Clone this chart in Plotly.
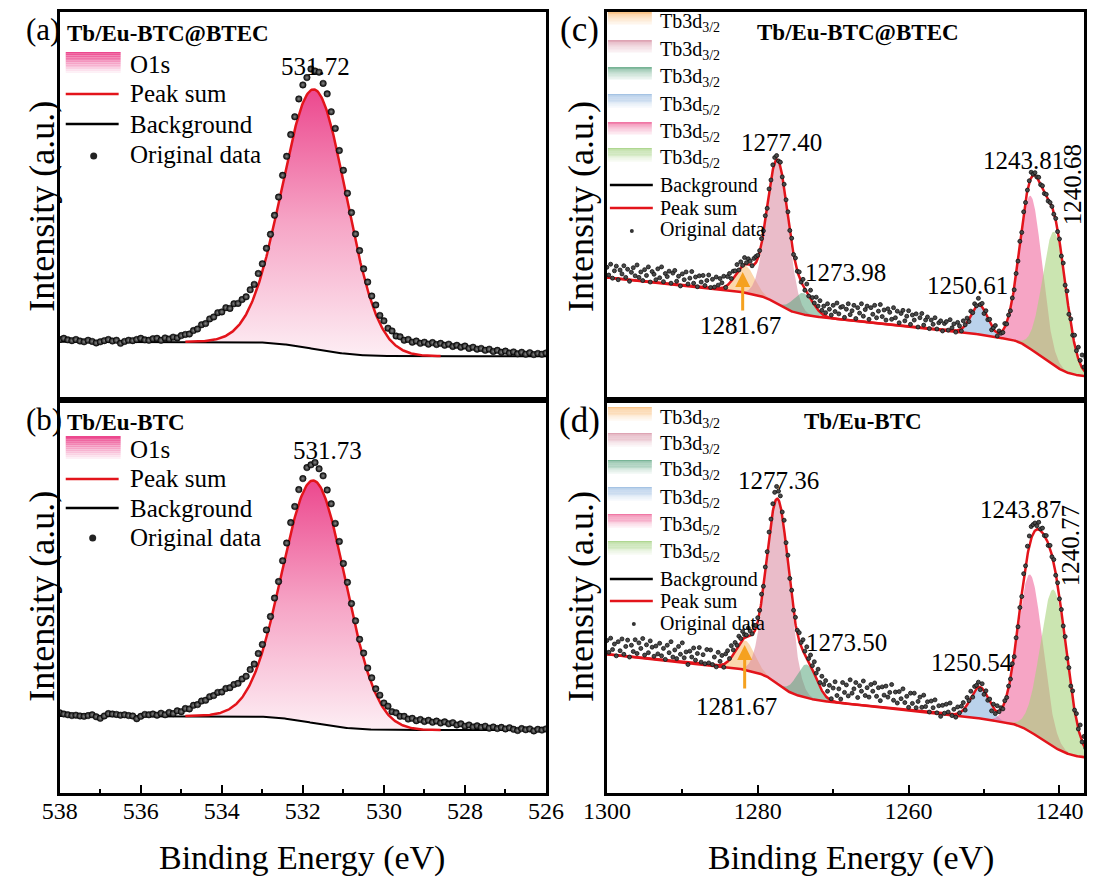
import math
import numpy as np
import plotly.graph_objects as go

W, H = 1102, 881
SERIF = "Liberation Serif"

# ---------------- chart values ----------------
PANEL_TAGS = ["(a)", "(b)", "(c)", "(d)"]
SAMPLES = ["Tb/Eu-BTC@BTEC", "Tb/Eu-BTC"]

# O1s spectra (panels a, b): binding energy scan 538 -> 526 eV, step 0.1 eV
O1S_SCAN = [538.0, 526.0, 0.1]
O1S_CENTER = [531.72, 531.73]
O1S_HEIGHT = [66.9, 61.7]
O1S_FWHM = [1.87, 1.84]
O1S_BG_LOW = [11.3, 16.0]
O1S_BG_STEP = [3.7, 3.6]
O1S_FIT_WINDOW = [534.9, 528.6]
O1S_PEAK_TEXT = ["531.72", "531.73"]

O1S_DATA_A = [
    15.6, 15.9, 15.5, 15.3, 15.6, 15.2, 15.0, 15.4, 15.1, 14.7,
    15.0, 15.3, 15.6, 15.2, 15.4, 14.6, 15.1, 15.4, 15.3, 15.6,
    15.9, 15.5, 15.4, 15.8, 15.9, 15.4, 16.0, 15.7, 16.2, 16.0,
    16.6, 16.9, 17.0, 17.9, 18.3, 19.4, 19.7, 20.9, 21.4, 22.5,
    22.7, 23.8, 23.6, 24.8, 24.9, 25.9, 26.6, 28.4, 29.8, 32.6,
    35.1, 39.1, 42.7, 47.6, 52.3, 57.9, 62.8, 68.4, 73.0, 77.6,
    81.2, 83.1, 85.3, 84.8, 84.5, 81.6, 78.9, 74.3, 70.0, 64.3,
    59.2, 53.3, 48.3, 42.8, 38.5, 33.8, 30.4, 26.8, 24.5, 21.8,
    20.4, 18.5, 17.8, 16.5, 16.3, 15.4, 15.6, 14.9, 15.2, 14.6,
    14.9, 14.4, 14.8, 14.3, 14.6, 14.1, 14.4, 13.8, 14.1, 13.6,
    13.9, 13.3, 13.6, 13.1, 13.3, 12.8, 13.1, 12.5, 12.8, 12.3,
    12.6, 12.1, 12.4, 11.9, 12.3, 11.8, 12.2, 11.7, 12.0, 11.8,
    12.1]

O1S_DATA_B = [
    20.4, 20.1, 19.9, 19.7, 19.8, 19.6, 19.5, 19.7, 19.9, 19.4,
    19.0, 19.6, 20.2, 20.1, 20.0, 19.8, 19.9, 19.7, 19.6, 18.9,
    19.5, 20.0, 19.9, 20.1, 19.8, 20.3, 19.9, 20.5, 20.2, 20.9,
    20.7, 21.5, 21.4, 22.3, 22.5, 23.4, 23.6, 24.5, 24.8, 25.6,
    25.7, 26.6, 26.8, 27.6, 27.9, 29.0, 29.7, 31.4, 32.8, 35.5,
    37.8, 41.5, 44.9, 49.6, 53.8, 59.1, 63.6, 68.8, 72.9, 77.2,
    80.0, 82.8, 83.5, 84.1, 82.5, 80.7, 77.1, 73.6, 68.6, 64.0,
    58.4, 53.6, 48.2, 43.8, 39.1, 35.6, 31.8, 29.3, 26.5, 24.9,
    22.9, 22.1, 20.7, 20.4, 19.5, 19.5, 18.8, 19.0, 18.4, 18.7,
    18.2, 18.5, 18.0, 18.3, 17.8, 18.1, 17.6, 17.9, 17.3, 17.6,
    17.0, 17.3, 16.8, 17.1, 16.7, 17.0, 16.5, 16.8, 16.4, 16.7,
    16.3, 16.6, 16.2, 15.9, 16.4, 16.1, 16.3, 15.8, 16.2, 16.0,
    16.3]

# Tb 3d spectra (panels c, d): binding energy scan 1300 -> 1234.5 eV, step 0.25 eV
TB_SCAN = [1300.0, 1234.5, 0.25]
TB_LABELS = ["Tb3d<sub>3/2</sub>"] * 3 + ["Tb3d<sub>5/2</sub>"] * 3
TB_CENTER_C = [1281.67, 1277.40, 1273.98, 1250.61, 1243.81, 1240.68]
TB_HEIGHT_C = [7.0, 37.0, 5.5, 7.7, 39.5, 34.5]
TB_SIGMA_C = [1.25, 1.4, 1.3, 1.1, 1.5, 1.55]
TB_CENTER_D = [1281.67, 1277.36, 1273.50, 1250.54, 1243.87, 1240.77]
TB_HEIGHT_D = [7.5, 47.0, 8.5, 8.0, 40.0, 40.0]
TB_SIGMA_D = [1.25, 1.5, 1.3, 1.2, 1.65, 1.75]
TB_BG_C = [5.7, 0.2, 8.2, 4.6]   # low-BE level, slope, 3d5/2 step, 3d3/2 step
TB_BG_D = [8.6, 0.2, 7.4, 6.2]

TB_DATA_C = [
    34.2, 32.2, 35.0, 31.4, 33.3, 34.5, 31.0, 33.5, 32.5, 34.6,
    31.6, 33.7, 30.6, 32.9, 34.1, 32.0, 34.8, 31.6, 33.0, 30.8,
    33.6, 32.1, 34.3, 30.4, 33.1, 32.4, 31.0, 33.8, 31.5, 34.3,
    30.5, 32.6, 31.8, 33.2, 30.1, 32.7, 33.4, 30.6, 31.9, 29.4,
    32.5, 31.0, 33.0, 29.9, 31.4, 33.1, 30.1, 31.7, 29.2, 32.0,
    30.4, 32.1, 29.5, 30.8, 32.2, 29.0,
    31.1, 29.1, 31.7, 29.6, 31.3, 30.2, 31.9, 29.0, 31.8, 32.6,
    31.3, 33.2, 33.3, 34.9, 33.5, 35.6, 34.7, 36.7, 35.4, 36.4,
    35.8, 34.6, 36.5, 37.0, 37.3, 38.5, 41.6, 43.6, 47.5, 49.4,
    54.4, 56.7, 60.6, 62.5, 63.0, 61.6, 61.3, 57.5, 55.6, 51.6,
    48.5, 43.7, 41.7, 37.5, 36.6, 33.2, 33.0, 30.4, 31.1, 28.3,
    29.9, 26.8, 28.3, 26.4, 25.0, 26.5, 24.2, 25.6, 23.1, 24.2,
    22.5, 24.8, 23.4, 21.9, 24.4, 22.8, 25.0, 22.2, 23.9,
    24.1, 21.3, 23.4, 24.8, 22.0, 23.0, 24.4, 21.0, 23.8, 22.4,
    24.8, 21.6, 23.3, 24.2, 20.8, 23.8, 22.1, 24.4, 21.2, 22.9,
    24.6, 21.5, 23.2, 20.6, 23.5, 22.6, 20.8, 23.8, 21.2, 22.9,
    19.9, 22.3, 23.1, 20.4, 21.6, 23.0, 19.5, 21.9, 20.6, 22.2,
    18.8, 21.2, 22.3, 19.3, 20.6, 21.4, 18.4, 20.6, 19.5, 21.2,
    18.3, 19.9, 20.4, 17.8, 19.7,
    20.2, 18.0, 20.7, 18.6, 19.6, 17.5, 20.0, 19.1, 17.8, 20.4,
    19.4, 21.1, 20.2, 22.9, 22.5, 24.8, 24.3, 26.2, 24.6, 24.9,
    22.3, 23.0, 20.7, 20.8, 18.1, 18.6, 19.2, 16.5, 17.8, 17.2,
    17.4, 19.7, 19.6, 21.9, 23.0, 26.3, 28.4, 32.6, 35.8, 40.9,
    43.2, 48.5, 50.9, 54.1, 56.5, 58.7, 58.2, 58.6, 57.5, 57.4,
    55.5, 55.2, 53.2, 53.0, 51.3, 50.9, 49.9, 47.9, 46.8, 43.4,
    41.5, 37.1, 35.3, 29.6, 28.1, 22.1, 20.9, 16.7, 16.7, 12.7,
    13.6, 10.2, 11.6, 8.5, 10.9, 7.8, 9.5, 8.3, 6.9, 10.0,
    6.4, 8.8, 7.4]

TB_DATA_D = [
    38.8, 35.8, 39.4, 36.5, 37.9, 34.9, 38.5, 36.2, 39.2, 35.3,
    37.3, 38.9, 34.6, 37.6, 36.0, 39.0, 35.5, 38.2, 36.8, 39.3,
    35.1, 37.7, 35.7, 38.7, 37.1, 34.8, 37.4, 35.4, 38.1, 34.9,
    36.8, 34.0, 37.6, 35.7, 38.5, 34.6, 36.4, 34.2, 37.3, 35.3,
    38.2, 34.4, 35.9, 32.7, 36.1, 34.6, 36.9, 33.8, 35.5, 37.0,
    33.3, 35.2, 32.9, 36.5, 33.1, 36.4, 32.7, 34.6, 32.1, 35.8,
    33.5, 35.0, 32.0, 35.4,
    36.2, 34.2, 37.5, 36.4, 38.3, 37.6, 39.9, 39.3, 41.1, 40.3,
    40.2, 42.0, 41.2, 40.5, 42.7, 42.6, 44.6, 46.5, 50.6, 52.6,
    57.5, 61.4, 66.4, 69.7, 73.6, 76.5, 78.0, 76.8, 75.6, 71.5,
    69.4, 63.7, 60.5, 54.6, 51.6, 46.5, 44.7, 41.4, 40.8, 38.3,
    39.0, 36.1, 37.2, 34.2, 35.1, 32.4, 33.4, 30.5, 31.5, 28.1,
    29.7, 27.6, 28.6, 25.9,
    27.4, 24.0, 26.7, 28.3, 24.8, 26.5, 23.9, 28.1, 25.6, 27.5,
    24.7, 28.8, 25.4, 26.5, 28.1, 24.3, 27.3, 25.9, 28.5, 24.8,
    26.8, 24.4, 27.6, 25.9, 28.0, 24.6, 26.8, 23.5, 27.0, 24.9,
    27.2, 24.4, 25.6, 27.6, 23.6, 25.7, 22.9, 25.8, 24.0, 26.5,
    23.0, 24.6, 21.8, 25.4, 22.8, 25.4, 21.7, 23.3, 24.4, 21.8,
    24.9, 22.0, 23.2, 20.6, 23.4, 21.7, 23.7, 20.4, 22.2, 19.5,
    22.3, 20.3, 22.6, 20.6, 22.9, 19.7, 21.3, 19.3, 21.9, 20.4,
    22.1,
    23.0, 21.1, 24.3, 23.5, 25.9, 24.4, 27.1, 27.4, 28.2, 26.3,
    27.8, 25.1, 26.0, 23.6, 23.9, 20.9, 22.6, 20.2, 22.2, 20.7,
    21.7, 21.4, 23.5, 24.3, 27.2, 29.0, 32.9, 34.7, 39.5, 42.3,
    47.2, 50.0, 55.8, 57.8, 62.8, 65.4, 67.8, 68.3, 68.7, 68.0,
    68.9, 67.2, 67.4, 65.5, 65.5, 63.0, 63.0, 60.1, 59.4, 55.4,
    53.5, 49.4, 46.7, 42.5, 39.8, 34.3, 31.9, 27.2, 26.0, 21.1,
    20.2, 16.3, 17.3, 13.0, 14.4, 11.4, 12.5, 9.8, 11.0, 8.2,
    10.4, 6.8, 9.8, 6.5]

TB_FILL = ["rgba(248,188,118,0.60)", "rgba(218,140,162,0.58)", "rgba(90,165,125,0.55)",
           "rgba(140,180,222,0.60)", "rgba(240,100,155,0.58)", "rgba(165,210,120,0.58)"]
TB_SWATCH = [(250, 196, 136), (222, 164, 180), (120, 180, 150),
             (165, 195, 228), (240, 120, 165), (175, 215, 145)]

# ---------------- placement helpers ----------------
# the photographed page appears horizontally as x' = SX * x + OX; targets below are in picture pixels
SX, OX = 0.9634, 23.2
RIGHT_L = 607
RIGHT_R = SX * W + OX                  # furthest right edge reachable in the picture
TB_PX_PER_EV = 7.555                   # reference scale of the Tb panels
TB_RANGE = [1300.0, 1300.0 - (RIGHT_R - RIGHT_L) / TB_PX_PER_EV]


def px(x):
    return min(1.0, max(0.0, (x - OX) / SX / W))


def py(y):
    return 1 - y / H


def scan(spec):
    start, stop, step = spec
    n = int(round(abs(start - stop) / step)) + 1
    return np.round(start - np.sign(start - stop) * step * np.arange(n), 4)


def Phi(z):
    z = np.asarray(z, dtype=float)
    return 0.5 * (1 + np.array([math.erf(v / math.sqrt(2)) for v in z.ravel()]).reshape(z.shape))


def gauss(E, c, h, s):
    return h * np.exp(-0.5 * ((E - c) / s) ** 2)


def o1s_model(E, i):
    s = O1S_FWHM[i] / 2.3548
    bg = O1S_BG_LOW[i] + O1S_BG_STEP[i] * Phi((E - O1S_CENTER[i]) / s)
    pk = gauss(E, O1S_CENTER[i], O1S_HEIGHT[i], s)
    return bg, pk


def tb_model(E, C, Hh, S, BG):
    low, slope, s52, s32 = BG
    comps = [gauss(E, c, h, s) for c, h, s in zip(C, Hh, S)]
    areas = [h * s for h, s in zip(Hh, S)]

    def cum(sel):
        tot = sum(a for c, a in zip(C, areas) if sel(c))
        return sum(a * Phi((E - c) / s) for c, a, s in zip(C, areas, S) if sel(c)) / tot
    bg = low + slope * (E - TB_SCAN[1]) + s52 * cum(lambda c: c < 1260) + s32 * cum(lambda c: c > 1260)
    return bg, comps


E_O = scan(O1S_SCAN)
E_T = scan(TB_SCAN)

# ---------------- figure ----------------
AX = {"a": (59, 546, 12, 400), "b": (59, 546, 400, 793),
      "c": (RIGHT_L, RIGHT_R, 12, 400), "d": (RIGHT_L, RIGHT_R, 400, 793)}
KEYS = "abcd"

fig = go.Figure()
layout = dict(width=W, height=H, margin=dict(l=0, r=0, t=0, b=0, pad=0), autosize=False,
              paper_bgcolor="white", plot_bgcolor="white", showlegend=False)

for n, key in enumerate(KEYS, start=1):
    x0, x1, yt, yb = AX[key]
    sfx = "" if n == 1 else str(n)
    left = key in "ab"
    bottom = key in "bd"
    xa = dict(domain=[px(x0), px(x1)], range=[538, 526] if left else TB_RANGE,
              showline=True, mirror=True, linewidth=2.5, linecolor="black",
              showgrid=False, zeroline=False, anchor="y" + sfx)
    if bottom:
        xa.update(ticks="inside", ticklen=8, tickwidth=2, tickcolor="black",
                  dtick=2 if left else 20, tick0=526 if left else 1240,
                  minor=dict(ticks="inside", ticklen=4, tickwidth=2, tickcolor="black",
                             dtick=1 if left else 10, tick0=526 if left else 1240),
                  tickfont=dict(family=SERIF, size=24, color="black"), ticklabelstandoff=-6)
    else:
        xa.update(ticks="", showticklabels=False)
    ya = dict(domain=[py(yb), py(yt)], range=[0, 100], showline=True, mirror=True,
              linewidth=2.5, linecolor="black", showgrid=False, zeroline=False,
              ticks="", showticklabels=False, anchor="x" + sfx)
    layout["xaxis" + sfx] = xa
    layout["yaxis" + sfx] = ya

# O1s panels
Ef_O = scan([538.0, 526.0, 0.02])
for i, data in enumerate([O1S_DATA_A, O1S_DATA_B]):
    n = i + 1
    sfx = "" if n == 1 else str(n)
    xr, yr = "x" + sfx, "y" + sfx
    bg, pk = o1s_model(Ef_O, i)
    win = (Ef_O <= O1S_FIT_WINDOW[0]) & (Ef_O >= O1S_FIT_WINDOW[1])
    fig.add_trace(go.Scatter(x=Ef_O[win], y=bg[win], mode="lines", line=dict(width=0),
                             xaxis=xr, yaxis=yr, hoverinfo="skip"))
    fig.add_trace(go.Scatter(x=Ef_O[win], y=(bg + pk)[win], mode="lines", line=dict(width=0),
                             fill="tonexty",
                             fillgradient=dict(type="vertical", start=float(bg.min()),
                                               stop=float((bg + pk).max()),
                                               colorscale=[[0, "rgb(253,238,244)"], [0.5, "rgb(246,165,198)"],
                                                           [1, "rgb(236,72,142)"]]),
                             xaxis=xr, yaxis=yr, hoverinfo="skip"))
    fig.add_trace(go.Scatter(x=Ef_O, y=bg, mode="lines", line=dict(color="black", width=2),
                             xaxis=xr, yaxis=yr))
    fig.add_trace(go.Scatter(x=Ef_O[win], y=(bg + pk)[win], mode="lines",
                             line=dict(color="#e3141b", width=2.5), xaxis=xr, yaxis=yr))
    fig.add_trace(go.Scatter(x=E_O, y=data, mode="markers",
                             marker=dict(size=6.5, color="#0a0a0a",
                                         gradient=dict(type="radial", color="#8a8a8a"),
                                         line=dict(width=0.5, color="black")),
                             xaxis=xr, yaxis=yr))

# Tb panels
Ef_T = scan([1300.0, 1234.5, 0.05])
for n, C, Hh, S, BG, data in [(3, TB_CENTER_C, TB_HEIGHT_C, TB_SIGMA_C, TB_BG_C, TB_DATA_C),
                              (4, TB_CENTER_D, TB_HEIGHT_D, TB_SIGMA_D, TB_BG_D, TB_DATA_D)]:
    xr, yr = "x" + str(n), "y" + str(n)
    bg, comps = tb_model(Ef_T, C, Hh, S, BG)
    for comp, col in zip(comps, TB_FILL):
        m = comp > 0.02
        fig.add_trace(go.Scatter(x=Ef_T[m], y=bg[m], mode="lines", line=dict(width=0),
                                 xaxis=xr, yaxis=yr, hoverinfo="skip"))
        fig.add_trace(go.Scatter(x=Ef_T[m], y=(bg + comp)[m], mode="lines", line=dict(width=0),
                                 fill="tonexty", fillcolor=col, xaxis=xr, yaxis=yr, hoverinfo="skip"))
    fig.add_trace(go.Scatter(x=Ef_T, y=bg, mode="lines", line=dict(color="#e3141b", width=2.5),
                             xaxis=xr, yaxis=yr))
    fig.add_trace(go.Scatter(x=Ef_T, y=bg + sum(comps), mode="lines",
                             line=dict(color="#e3141b", width=2.5), xaxis=xr, yaxis=yr))
    fig.add_trace(go.Scatter(x=E_T, y=data, mode="markers",
                             marker=dict(size=4, color="#4a4a4a", line=dict(width=0.8, color="#111111")),
                             xaxis=xr, yaxis=yr))

# ---------------- text and legends ----------------
ann = []
shapes = []


def text(x, y, s, size, xanchor="left", angle=0, bold=False):
    ann.append(dict(x=px(x), y=py(y), xref="paper", yref="paper", text=f"<b>{s}</b>" if bold else s,
                    showarrow=False, xanchor=xanchor, yanchor="middle", textangle=angle,
                    font=dict(family=SERIF, size=size, color="black")))


def swatch(x0, x1, y0, y1, rgb, n=12):
    for k in range(n):
        t = k / (n - 1)
        c = tuple(int(round(v + (255 - v) * t * 0.92)) for v in rgb)
        shapes.append(dict(type="rect", xref="paper", yref="paper", x0=px(x0), x1=px(x1),
                           y0=py(y0 + (y1 - y0) * (k + 1) / n), y1=py(y0 + (y1 - y0) * k / n),
                           fillcolor=f"rgb{c}", line=dict(width=0), layer="above"))


def hline(x0, x1, y, color, w):
    shapes.append(dict(type="line", xref="paper", yref="paper", x0=px(x0), x1=px(x1), y0=py(y), y1=py(y),
                       line=dict(color=color, width=w), layer="above"))


def dot(x, y, r, color):
    shapes.append(dict(type="circle", xref="paper", yref="paper", x0=px(x - r), x1=px(x + r),
                       y0=py(y + r), y1=py(y - r), fillcolor=color, line=dict(width=0), layer="above"))


# panel tags and axis titles
text(OX + 0.5, 29, PANEL_TAGS[0], 31)
text(OX + 0.5, 419, PANEL_TAGS[1], 31)
text(580, 30, PANEL_TAGS[2], 35, xanchor="center")
text(580, 420, PANEL_TAGS[3], 35, xanchor="center")
for (x, y) in [(41, 206), (41, 596), (581, 206), (581, 596)]:
    text(x, y, "Intensity (a.u.)", 36, xanchor="center", angle=-90)
text(302, 858, "Binding Energy (eV)", 34, xanchor="center")
text(852, 858, "Binding Energy (eV)", 34, xanchor="center")

# O1s legends
for i, (ty, sw, rows, dx, lab) in enumerate([
        (34, (52, 73), (64, 94, 124, 155), 93, (315, 67)),
        (423, (436, 459), (449, 479, 508, 537), 92, (327, 450))]):
    text(64, ty, SAMPLES[i], 23, bold=True)
    swatch(65, 120, sw[0], sw[1], (236, 72, 142))
    text(127, rows[0], "O1s", 25)
    hline(65, 118, rows[1], "#e3141b", 2.5)
    text(127, rows[1], "Peak sum", 25)
    hline(65, 118, rows[2], "black", 2.5)
    text(127, rows[2], "Background", 25)
    dot(dx, rows[3] + 1, 3.5, "#222222")
    text(127, rows[3], "Original data", 25)
    text(lab[0], lab[1], O1S_PEAK_TEXT[i], 25, xanchor="center")

# Tb legends
TB_ROWS = {"c": [(12, 25), (40, 53), (67, 80), (94, 108), (122, 135), (148, 162)],
           "d": [(407, 421), (433, 447), (460, 474), (487, 501), (514, 528), (541, 555)]}
TB_LINES = {"c": (185, 208, 230, 632), "d": (579, 601, 623, 634)}
TB_TITLE = {"c": (859, 33, SAMPLES[0]), "d": (864, 422, SAMPLES[1])}
TB_PEAK_TEXT = {
    "c": [("1277.40", 782, 143, 0), ("1273.98", 846, 272, 0), ("1281.67", 741, 325, 0),
          ("1250.61", 968, 286, 0), ("1243.81", 1024, 160, 0), ("1240.68", 1073, 185, -90)],
    "d": [("1277.36", 779, 480, 0), ("1273.50", 847, 642, 0), ("1281.67", 737, 706, 0),
          ("1250.54", 973, 662, 0), ("1243.87", 1021, 509, 0), ("1240.77", 1071, 546, -90)]}
TB_ARROW = {"c": (743, 272, 312), "d": (745, 645, 690)}

for key in "cd":
    for (y0, y1), rgb, lab in zip(TB_ROWS[key], TB_SWATCH, TB_LABELS):
        swatch(608, 652, y0, y1, rgb)
        text(658, (y0 + y1) / 2 + 4, lab, 20)
    yb, yp, yo, dxx = TB_LINES[key]
    hline(610, 653, yb, "black", 2.5)
    text(658, yb, "Background", 20)
    hline(610, 653, yp, "#e3141b", 2.5)
    text(658, yp, "Peak sum", 20)
    dot(dxx, yo + 1, 2, "#333333")
    text(658, yo, "Original data", 20)
    tx, tyy, ts = TB_TITLE[key]
    text(tx, tyy, ts, 23, xanchor="center", bold=True)
    for s, x, y, a in TB_PEAK_TEXT[key]:
        text(x, y, s, 25, xanchor="center", angle=a)
    axx, hy, ty = TB_ARROW[key]
    ann.append(dict(x=px(axx), y=py(hy), xref="paper", yref="paper", text="", showarrow=True,
                    ax=0, ay=ty - hy, axref="pixel", ayref="pixel", arrowhead=2, arrowsize=1,
                    arrowwidth=3, arrowcolor="#f5a11f"))

layout["annotations"] = ann
layout["shapes"] = shapes
fig.update_layout(**layout)
fig.write_html("out.html")
